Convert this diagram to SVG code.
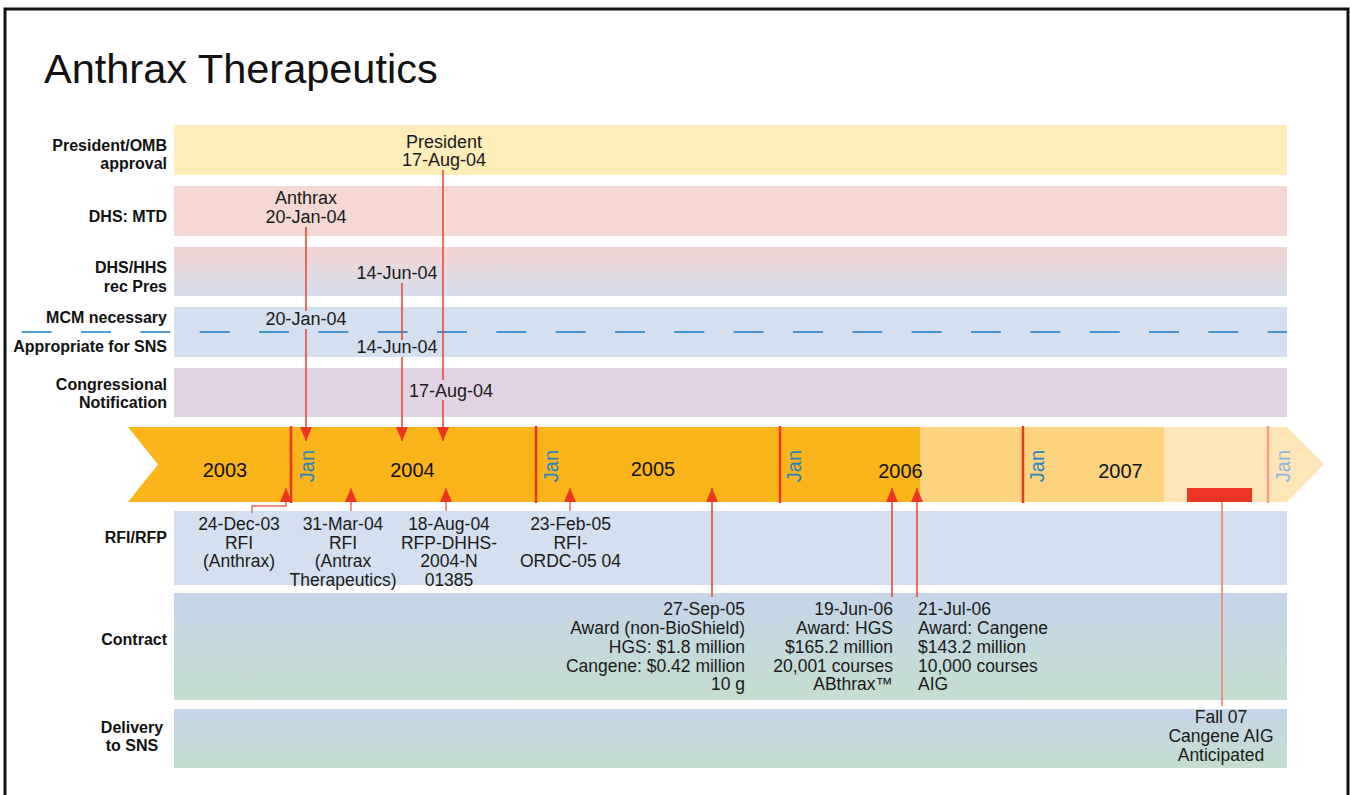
<svg xmlns="http://www.w3.org/2000/svg" width="1350" height="795" viewBox="0 0 1350 795">
  <style>
    .lbl { font-family: "Liberation Sans", Arial, sans-serif; font-weight: bold; font-size: 16px; fill: #111; text-anchor: end; }
    .txt { font-family: "Liberation Sans", Arial, sans-serif; font-size: 18px; fill: #1a1a1a; text-anchor: middle; }
    .small { font-size: 17.5px; }
    .year { font-family: "Liberation Sans", Arial, sans-serif; font-size: 20px; fill: #111; text-anchor: middle; }
    .jan { font-family: "Liberation Sans", Arial, sans-serif; font-size: 20px; fill: #2683C6; text-anchor: middle; }
    .conn { stroke: #EE3F2E; stroke-width: 1.5; fill: none; }
    .connup { stroke: #F0685A; stroke-width: 1.5; fill: none; }
    .yline { stroke: #EE3524; stroke-width: 2.5; }
  </style>
  <defs>
    <linearGradient id="gPink" x1="0" y1="0" x2="0" y2="1">
      <stop offset="0" stop-color="#F3D5D1"/>
      <stop offset="1" stop-color="#D5DDEE"/>
    </linearGradient>
    <linearGradient id="gBG" x1="0" y1="0" x2="0" y2="1">
      <stop offset="0" stop-color="#C5D5EA"/>
      <stop offset="1" stop-color="#C3DECF"/>
    </linearGradient>
    <marker id="arr" viewBox="0 0 14 12" refX="14" refY="6" markerWidth="14" markerHeight="12" markerUnits="userSpaceOnUse" orient="auto">
      <path d="M0,0 L14,6 L0,12 Z" fill="#EE3524"/>
    </marker>
  </defs>

  <rect x="0" y="0" width="1350" height="795" fill="#fff"/>
  <path d="M5,795 V9 H1348 V795" fill="none" stroke="#111" stroke-width="3"/>

  <text x="44" y="83" font-family="Liberation Sans, Arial, sans-serif" font-size="41.5" fill="#111">Anthrax Therapeutics</text>

  <!-- bands -->
  <g id="band-president">
    <rect x="174" y="125" width="1113" height="50" fill="#FFEDBA"/>
    <text class="lbl" x="167" y="151">President/OMB</text>
    <text class="lbl" x="167" y="169">approval</text>
  </g>
  <g id="band-dhs-mtd">
    <rect x="174" y="186" width="1113" height="50" fill="#F5D8D4"/>
    <text class="lbl" x="167" y="222">DHS: MTD</text>
  </g>
  <g id="band-dhs-hhs">
    <rect x="174" y="247" width="1113" height="49" fill="url(#gPink)"/>
    <text class="lbl" x="167" y="273">DHS/HHS</text>
    <text class="lbl" x="167" y="292">rec Pres</text>
  </g>
  <g id="band-mcm">
    <rect x="174" y="307" width="1113" height="50" fill="#D4DFF0"/>
    <text class="lbl" x="167" y="323">MCM necessary</text>
    <text class="lbl" x="167" y="352">Appropriate for SNS</text>
    <line x1="21.7" y1="332" x2="1287" y2="332" stroke="#1A7DC9" stroke-width="1.5" stroke-dasharray="30 29.33"/>
  </g>
  <g id="band-congress">
    <rect x="174" y="368" width="1113" height="49" fill="#E1D3E4"/>
    <text class="lbl" x="167" y="390">Congressional</text>
    <text class="lbl" x="167" y="408">Notification</text>
  </g>
  <g id="band-rfi">
    <rect x="174" y="511" width="1113" height="74" fill="#D4DFF0"/>
    <text class="lbl" x="167" y="543">RFI/RFP</text>
  </g>
  <g id="band-contract">
    <rect x="174" y="593" width="1113" height="107" fill="url(#gBG)"/>
    <text class="lbl" x="167" y="645">Contract</text>
  </g>
  <g id="band-delivery">
    <rect x="174" y="709" width="1113" height="59" fill="url(#gBG)"/>
    <text class="lbl" x="132" y="733" text-anchor="middle" style="text-anchor:middle">Delivery</text>
    <text class="lbl" x="132" y="751" text-anchor="middle" style="text-anchor:middle">to SNS</text>
  </g>

  <!-- timeline -->
  <g id="timeline">
    <path d="M128,427 H920 V502 H128 L158,464.5 Z" fill="#FBB419"/>
    <rect x="920" y="427" width="244" height="75" fill="#FDD37F"/>
    <path d="M1164,427 H1287 L1324,464.5 L1287,502 H1164 Z" fill="#FEE6B8"/>
    <line class="yline" x1="291" y1="426" x2="291" y2="503"/>
    <line class="yline" x1="536" y1="426" x2="536" y2="503"/>
    <line class="yline" x1="780" y1="426" x2="780" y2="503"/>
    <line class="yline" x1="1023" y1="426" x2="1023" y2="503"/>
    <line x1="1268" y1="426" x2="1268" y2="503" stroke="#F4A08C" stroke-width="2.5"/>
    <text class="year" x="225" y="477">2003</text>
    <text class="year" x="412.5" y="477">2004</text>
    <text class="year" x="653" y="476">2005</text>
    <text class="year" x="900.5" y="478">2006</text>
    <text class="year" x="1120.5" y="478">2007</text>
    <text class="jan" transform="translate(307,466) rotate(-90)" dy="7">Jan</text>
    <text class="jan" transform="translate(551,466) rotate(-90)" dy="7">Jan</text>
    <text class="jan" transform="translate(794,466) rotate(-90)" dy="7">Jan</text>
    <text class="jan" transform="translate(1037,466) rotate(-90)" dy="7">Jan</text>
    <text class="jan" transform="translate(1283,466) rotate(-90)" dy="7" style="fill:#8FB3DC">Jan</text>
    <rect x="1187" y="488" width="65" height="14" fill="#EE3524"/>
  </g>

  <!-- connectors -->
  <g id="connectors">
    <line class="conn" x1="306" y1="227" x2="306" y2="311"/>
    <line class="conn" x1="306" y1="329" x2="306" y2="441" marker-end="url(#arr)"/>
    <line class="conn" x1="402" y1="283" x2="402" y2="340"/>
    <line class="conn" x1="402" y1="357" x2="402" y2="441" marker-end="url(#arr)"/>
    <line class="conn" x1="443" y1="170" x2="443" y2="380"/>
    <line class="conn" x1="443" y1="400" x2="443" y2="441" marker-end="url(#arr)"/>

    <path class="connup" d="M252,513 V506 H286 V488" marker-end="url(#arr)"/>
    <line class="connup" x1="351" y1="511" x2="351" y2="488" marker-end="url(#arr)"/>
    <line class="connup" x1="446" y1="511" x2="446" y2="488" marker-end="url(#arr)"/>
    <line class="connup" x1="570" y1="511" x2="570" y2="488" marker-end="url(#arr)"/>
    <line class="conn" x1="712" y1="597" x2="712" y2="488" marker-end="url(#arr)"/>
    <line class="conn" x1="892" y1="597" x2="892" y2="488" marker-end="url(#arr)"/>
    <line class="conn" x1="917" y1="597" x2="917" y2="488" marker-end="url(#arr)"/>
    <line x1="1222" y1="502" x2="1222" y2="706" stroke="#F07A6C" stroke-width="1.5"/>
  </g>

  <!-- upper event labels -->
  <g id="ev-president">
    <text class="txt" x="444" y="148">President</text>
    <text class="txt" x="444" y="166">17-Aug-04</text>
  </g>
  <g id="ev-mtd">
    <text class="txt" x="306" y="204">Anthrax</text>
    <text class="txt" x="306" y="222.5">20-Jan-04</text>
  </g>
  <g id="ev-dhshhs">
    <text class="txt" x="397" y="279">14-Jun-04</text>
  </g>
  <g id="ev-mcm">
    <text class="txt" x="306" y="325">20-Jan-04</text>
    <text class="txt" x="397" y="353">14-Jun-04</text>
  </g>
  <g id="ev-congress">
    <text class="txt" x="451" y="396.5">17-Aug-04</text>
  </g>

  <!-- RFI/RFP labels -->
  <g id="ev-rfi1">
    <text class="txt small" x="239" y="530">24-Dec-03</text>
    <text class="txt small" x="239" y="548.5">RFI</text>
    <text class="txt small" x="239" y="567">(Anthrax)</text>
  </g>
  <g id="ev-rfi2">
    <text class="txt small" x="343" y="530">31-Mar-04</text>
    <text class="txt small" x="343" y="548.5">RFI</text>
    <text class="txt small" x="343" y="567">(Antrax</text>
    <text class="txt small" x="343" y="585.5">Therapeutics)</text>
  </g>
  <g id="ev-rfp">
    <text class="txt small" x="449" y="530">18-Aug-04</text>
    <text class="txt small" x="449" y="548.5">RFP-DHHS-</text>
    <text class="txt small" x="449" y="567">2004-N</text>
    <text class="txt small" x="449" y="585.5">01385</text>
  </g>
  <g id="ev-rfi3">
    <text class="txt small" x="570.5" y="530">23-Feb-05</text>
    <text class="txt small" x="570.5" y="548.5">RFI-</text>
    <text class="txt small" x="570.5" y="567">ORDC-05 04</text>
  </g>

  <!-- contract labels -->
  <g id="ev-contract1">
    <text class="txt small" x="745" y="615" style="text-anchor:end">27-Sep-05</text>
    <text class="txt small" x="745" y="634" style="text-anchor:end">Award (non-BioShield)</text>
    <text class="txt small" x="745" y="652.5" style="text-anchor:end">HGS: $1.8 million</text>
    <text class="txt small" x="745" y="671.5" style="text-anchor:end">Cangene: $0.42 million</text>
    <text class="txt small" x="745" y="690" style="text-anchor:end">10 g</text>
  </g>
  <g id="ev-contract2">
    <text class="txt small" x="893" y="615" style="text-anchor:end">19-Jun-06</text>
    <text class="txt small" x="893" y="634" style="text-anchor:end">Award: HGS</text>
    <text class="txt small" x="893" y="652.5" style="text-anchor:end">$165.2 million</text>
    <text class="txt small" x="893" y="671.5" style="text-anchor:end">20,001 courses</text>
    <text class="txt small" x="893" y="690" style="text-anchor:end">ABthrax™</text>
  </g>
  <g id="ev-contract3">
    <text class="txt small" x="918" y="615" style="text-anchor:start">21-Jul-06</text>
    <text class="txt small" x="918" y="634" style="text-anchor:start">Award: Cangene</text>
    <text class="txt small" x="918" y="652.5" style="text-anchor:start">$143.2 million</text>
    <text class="txt small" x="918" y="671.5" style="text-anchor:start">10,000 courses</text>
    <text class="txt small" x="918" y="690" style="text-anchor:start">AIG</text>
  </g>
  <g id="ev-delivery">
    <text class="txt small" x="1221" y="723">Fall 07</text>
    <text class="txt small" x="1221" y="742">Cangene AIG</text>
    <text class="txt small" x="1221" y="760.5">Anticipated</text>
  </g>
</svg>
